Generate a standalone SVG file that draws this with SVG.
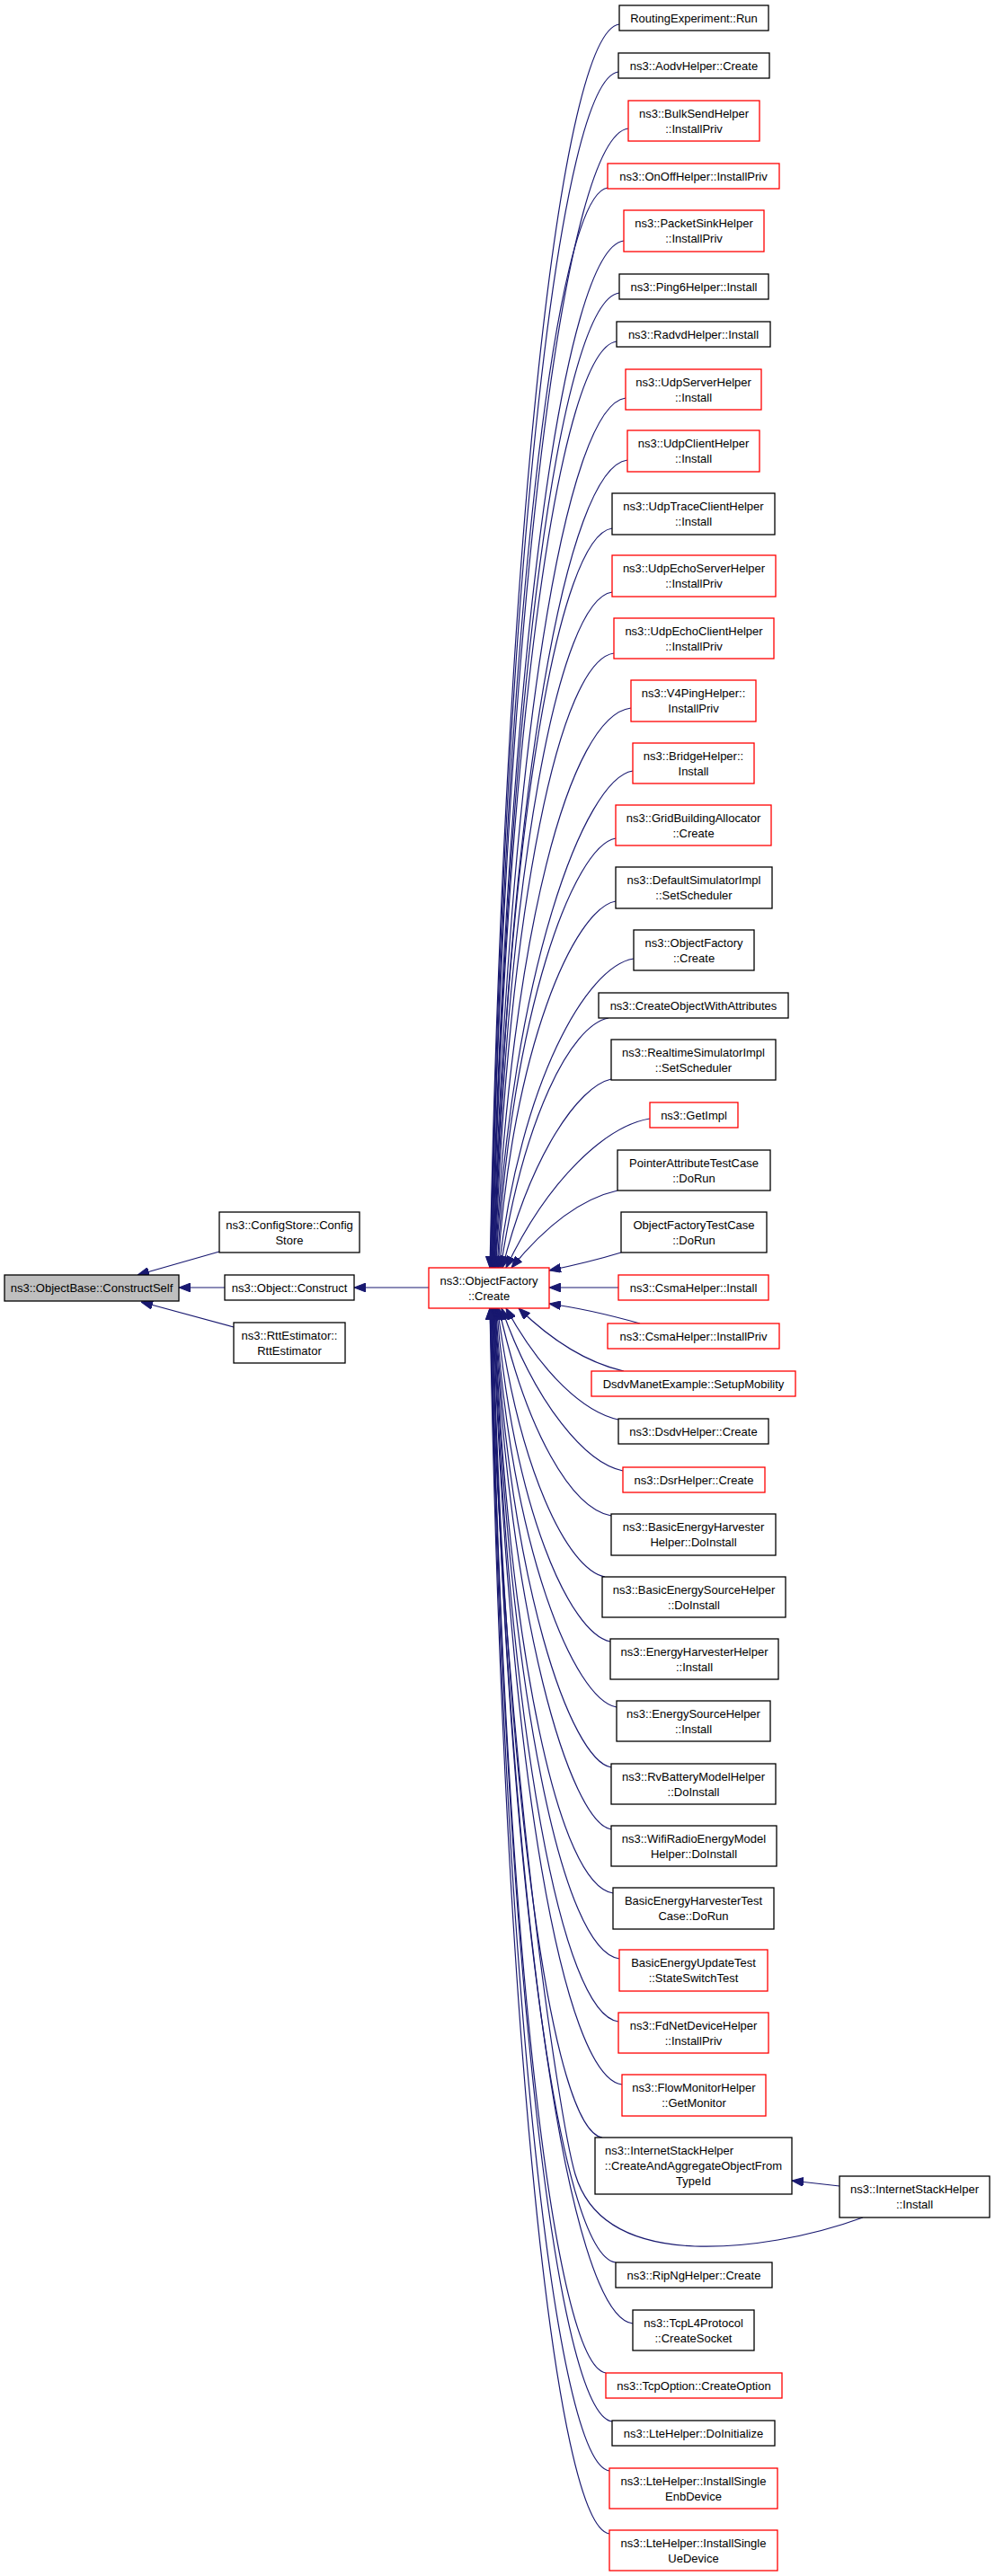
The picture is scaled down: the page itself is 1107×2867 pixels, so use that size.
<svg xmlns="http://www.w3.org/2000/svg" width="1107" height="2867" viewBox="0 0 1107 2867">
<style>
rect{fill:#ffffff;stroke:#000000;stroke-width:1.3}
.r rect{stroke:#ff0000}
.g rect{fill:#bfbfbf}
text{font-family:"Liberation Sans",Arial,sans-serif;font-size:13px;text-anchor:middle;fill:#000000}
text.l{text-anchor:start}
#edges path{fill:none;stroke:#191970;stroke-width:1.2;marker-end:url(#a)}
</style>
<defs>
<marker id="a" viewBox="0 0 13 10" refX="13" refY="5" markerWidth="13" markerHeight="10" markerUnits="userSpaceOnUse" orient="auto"><path d="M0,0 L13,5 L0,10 z" fill="#191970" stroke="#191970" stroke-width="1"/></marker>
</defs>
<rect x="0" y="0" width="1107" height="2867" style="fill:#ffffff;stroke:none"/>
<g id="edges">
<path d="M250,1433 L199,1433"/>
<path d="M477,1433 L394,1433"/>
<path d="M244,1393 L153,1419"/>
<path d="M260,1477 L157,1449"/>
<path d="M689,27 C624.2,35 562.3,580.6 545,1411"/>
<path d="M688,80 C623.9,88 562.6,612.4 545.5,1411"/>
<path d="M699,143 C630.1,151 564.4,650.2 546,1411"/>
<path d="M676,209 C617.7,217 562,689.8 546.5,1411"/>
<path d="M694,268 C627.8,276 564.6,725.2 547,1411"/>
<path d="M689,326 C625.3,334 564.5,760 547.5,1411"/>
<path d="M686,380 C623.9,388 564.6,792.4 548,1411"/>
<path d="M696,443 C629.6,451 566.2,830.2 548.5,1411"/>
<path d="M698,512 C631,520 566.9,871.6 549,1411"/>
<path d="M681,588 C621.8,596 565.3,917.2 549.5,1411"/>
<path d="M681,659 C622,667 565.7,959.8 550,1411"/>
<path d="M683,727 C623.4,735 566.4,1000.6 550.5,1411"/>
<path d="M702,788 C634,796 569.1,1037.2 551,1411"/>
<path d="M704,858 C650.6,866 569.8,1079.2 551.5,1411"/>
<path d="M685,933 C638.8,941 568.8,1124.2 553,1411"/>
<path d="M685,1003 C639.2,1011 569.7,1166.2 554,1411"/>
<path d="M705,1067 C652.5,1075 579.3,1204.6 555,1411"/>
<path d="M677,1133 C635,1141 582.4,1244.2 557,1411"/>
<path d="M680,1201 C643.7,1209 590.8,1285 559,1411"/>
<path d="M723,1245 C675,1253 610.3,1311.4 563,1411"/>
<path d="M687,1325 C651.6,1333 611,1359.4 569,1411"/>
<path d="M691,1394 C665,1402 635,1409 611,1414"/>
<path d="M688,1433 L611,1433"/>
<path d="M712,1473 C680,1464 640,1455 611,1451"/>
<path d="M694,1526 C658.9,1518 620,1498 577,1456"/>
<path d="M688,1580 C650.5,1572 603.9,1530.4 563,1456"/>
<path d="M693,1637 C652.5,1629 596.4,1564.6 558,1456"/>
<path d="M680,1687 C636.2,1679 585.8,1594.6 555,1456"/>
<path d="M673,1755 C631.2,1747 576.9,1635.4 553.5,1456"/>
<path d="M679,1827 C634.7,1819 570.5,1678.6 552.5,1456"/>
<path d="M686,1900 C638.9,1892 567.6,1722.4 551.5,1456"/>
<path d="M680,1967 C634.8,1959 566.5,1762.6 551,1456"/>
<path d="M680,2036 C634.7,2028 566,1804 550.5,1456"/>
<path d="M682,2107 C622.6,2099 565.8,1846.6 550,1456"/>
<path d="M689,2180 C626.2,2172 566.2,1890.4 549.5,1456"/>
<path d="M688,2250 C625.4,2242 565.7,1932.4 549,1456"/>
<path d="M692,2320 C627.4,2312 565.7,1974.4 548.5,1456"/>
<path d="M670,2379 C615.1,2371 562.6,2009.8 548,1456"/>
<path d="M685,2518 C623.1,2510 564,2093.2 547.5,1456"/>
<path d="M704,2586 C633.3,2578 565.8,2134 547,1456"/>
<path d="M674,2641 C616.6,2633 561.8,2167 546.5,1456"/>
<path d="M681,2695 C620.2,2687 562.2,2199.4 546,1456"/>
<path d="M678,2750 C618.4,2742 561.4,2232.4 545.5,1456"/>
<path d="M678,2820 C618.1,2812 561,2274.4 545,1456"/>
<path d="M960,2468 C900,2490 830,2502 773,2500 C700,2497 655,2470 640,2420 C622,2360 560,1950 545,1456"/>
<path d="M934,2433 L881,2427"/>
</g>
<g id="n_objectbase" class="g"><rect x="5" y="1419" width="194" height="29"/><text x="102" y="1438">ns3::ObjectBase::ConstructSelf</text></g>
<g id="n_configstore"><rect x="244" y="1349" width="156" height="45"/><text x="322" y="1367.5">ns3::ConfigStore::Config</text><text x="322" y="1384.5">Store</text></g>
<g id="n_objconstruct"><rect x="250" y="1419" width="144" height="28"/><text x="322" y="1437.5">ns3::Object::Construct</text></g>
<g id="n_rttestimator"><rect x="260" y="1472" width="124" height="45"/><text x="322" y="1490.5">ns3::RttEstimator::</text><text x="322" y="1507.5">RttEstimator</text></g>
<g id="n_ofcreate" class="r"><rect x="477" y="1411" width="134" height="45"/><text x="544" y="1429.5">ns3::ObjectFactory</text><text x="544" y="1446.5">::Create</text></g>
<g id="n1"><rect x="689" y="6" width="166" height="28"/><text x="772" y="24.5">RoutingExperiment::Run</text></g>
<g id="n2"><rect x="688" y="59" width="168" height="28"/><text x="772" y="77.5">ns3::AodvHelper::Create</text></g>
<g id="n3" class="r"><rect x="699" y="112" width="146" height="45"/><text x="772" y="130.5">ns3::BulkSendHelper</text><text x="772" y="147.5">::InstallPriv</text></g>
<g id="n4" class="r"><rect x="676" y="182" width="191" height="28"/><text x="771.5" y="200.5">ns3::OnOffHelper::InstallPriv</text></g>
<g id="n5" class="r"><rect x="694" y="234" width="156" height="46"/><text x="772" y="253">ns3::PacketSinkHelper</text><text x="772" y="270">::InstallPriv</text></g>
<g id="n6"><rect x="689" y="305" width="166" height="28"/><text x="772" y="323.5">ns3::Ping6Helper::Install</text></g>
<g id="n7"><rect x="686" y="358" width="171" height="28"/><text x="771.5" y="376.5">ns3::RadvdHelper::Install</text></g>
<g id="n8" class="r"><rect x="696" y="411" width="151" height="45"/><text x="771.5" y="429.5">ns3::UdpServerHelper</text><text x="771.5" y="446.5">::Install</text></g>
<g id="n9" class="r"><rect x="698" y="479" width="147" height="46"/><text x="771.5" y="498">ns3::UdpClientHelper</text><text x="771.5" y="515">::Install</text></g>
<g id="n10"><rect x="681" y="549" width="181" height="46"/><text x="771.5" y="568">ns3::UdpTraceClientHelper</text><text x="771.5" y="585">::Install</text></g>
<g id="n11" class="r"><rect x="681" y="618" width="182" height="46"/><text x="772" y="637">ns3::UdpEchoServerHelper</text><text x="772" y="654">::InstallPriv</text></g>
<g id="n12" class="r"><rect x="683" y="688" width="178" height="45"/><text x="772" y="706.5">ns3::UdpEchoClientHelper</text><text x="772" y="723.5">::InstallPriv</text></g>
<g id="n13" class="r"><rect x="702" y="757" width="139" height="46"/><text x="771.5" y="776">ns3::V4PingHelper::</text><text x="771.5" y="793">InstallPriv</text></g>
<g id="n14" class="r"><rect x="704" y="827" width="135" height="45"/><text x="771.5" y="845.5">ns3::BridgeHelper::</text><text x="771.5" y="862.5">Install</text></g>
<g id="n15" class="r"><rect x="685" y="896" width="173" height="45"/><text x="771.5" y="914.5">ns3::GridBuildingAllocator</text><text x="771.5" y="931.5">::Create</text></g>
<g id="n16"><rect x="685" y="965" width="174" height="46"/><text x="772" y="984">ns3::DefaultSimulatorImpl</text><text x="772" y="1001">::SetScheduler</text></g>
<g id="n17"><rect x="705" y="1035" width="134" height="45"/><text x="772" y="1053.5">ns3::ObjectFactory</text><text x="772" y="1070.5">::Create</text></g>
<g id="n18"><rect x="666" y="1105" width="211" height="28"/><text x="771.5" y="1123.5">ns3::CreateObjectWithAttributes</text></g>
<g id="n19"><rect x="680" y="1157" width="183" height="45"/><text x="771.5" y="1175.5">ns3::RealtimeSimulatorImpl</text><text x="771.5" y="1192.5">::SetScheduler</text></g>
<g id="n20" class="r"><rect x="723" y="1227" width="98" height="28"/><text x="772" y="1245.5">ns3::GetImpl</text></g>
<g id="n21"><rect x="687" y="1280" width="170" height="45"/><text x="772" y="1298.5">PointerAttributeTestCase</text><text x="772" y="1315.5">::DoRun</text></g>
<g id="n22"><rect x="691" y="1349" width="162" height="45"/><text x="772" y="1367.5">ObjectFactoryTestCase</text><text x="772" y="1384.5">::DoRun</text></g>
<g id="n23" class="r"><rect x="688" y="1419" width="167" height="28"/><text x="771.5" y="1437.5">ns3::CsmaHelper::Install</text></g>
<g id="n24" class="r"><rect x="676" y="1473" width="191" height="28"/><text x="771.5" y="1491.5">ns3::CsmaHelper::InstallPriv</text></g>
<g id="n25" class="r"><rect x="658" y="1526" width="227" height="28"/><text x="771.5" y="1544.5">DsdvManetExample::SetupMobility</text></g>
<g id="n26"><rect x="688" y="1579" width="167" height="28"/><text x="771.5" y="1597.5">ns3::DsdvHelper::Create</text></g>
<g id="n27" class="r"><rect x="693" y="1633" width="158" height="28"/><text x="772" y="1651.5">ns3::DsrHelper::Create</text></g>
<g id="n28"><rect x="680" y="1685" width="183" height="46"/><text x="771.5" y="1704">ns3::BasicEnergyHarvester</text><text x="771.5" y="1721">Helper::DoInstall</text></g>
<g id="n29"><rect x="670" y="1755" width="204" height="45"/><text x="772" y="1773.5">ns3::BasicEnergySourceHelper</text><text x="772" y="1790.5">::DoInstall</text></g>
<g id="n30"><rect x="679" y="1824" width="187" height="45"/><text x="772.5" y="1842.5">ns3::EnergyHarvesterHelper</text><text x="772.5" y="1859.5">::Install</text></g>
<g id="n31"><rect x="686" y="1893" width="171" height="45"/><text x="771.5" y="1911.5">ns3::EnergySourceHelper</text><text x="771.5" y="1928.5">::Install</text></g>
<g id="n32"><rect x="680" y="1963" width="183" height="45"/><text x="771.5" y="1981.5">ns3::RvBatteryModelHelper</text><text x="771.5" y="1998.5">::DoInstall</text></g>
<g id="n33"><rect x="680" y="2032" width="184" height="45"/><text x="772" y="2050.5">ns3::WifiRadioEnergyModel</text><text x="772" y="2067.5">Helper::DoInstall</text></g>
<g id="n34"><rect x="682" y="2101" width="179" height="46"/><text x="771.5" y="2120">BasicEnergyHarvesterTest</text><text x="771.5" y="2137">Case::DoRun</text></g>
<g id="n35" class="r"><rect x="689" y="2170" width="165" height="46"/><text x="771.5" y="2189">BasicEnergyUpdateTest</text><text x="771.5" y="2206">::StateSwitchTest</text></g>
<g id="n36" class="r"><rect x="688" y="2240" width="167" height="45"/><text x="771.5" y="2258.5">ns3::FdNetDeviceHelper</text><text x="771.5" y="2275.5">::InstallPriv</text></g>
<g id="n37" class="r"><rect x="692" y="2309" width="160" height="46"/><text x="772" y="2328">ns3::FlowMonitorHelper</text><text x="772" y="2345">::GetMonitor</text></g>
<g id="n38"><rect x="662" y="2379" width="219" height="63"/><text class="l" x="673" y="2398">ns3::InternetStackHelper</text><text x="771.5" y="2415">::CreateAndAggregateObjectFrom</text><text x="771.5" y="2432">TypeId</text></g>
<g id="n39"><rect x="685" y="2518" width="174" height="28"/><text x="772" y="2536.5">ns3::RipNgHelper::Create</text></g>
<g id="n40"><rect x="704" y="2571" width="135" height="45"/><text x="771.5" y="2589.5">ns3::TcpL4Protocol</text><text x="771.5" y="2606.5">::CreateSocket</text></g>
<g id="n41" class="r"><rect x="674" y="2641" width="196" height="28"/><text x="772" y="2659.5">ns3::TcpOption::CreateOption</text></g>
<g id="n42"><rect x="681" y="2694" width="181" height="28"/><text x="771.5" y="2712.5">ns3::LteHelper::DoInitialize</text></g>
<g id="n43" class="r"><rect x="678" y="2747" width="187" height="45"/><text x="771.5" y="2765.5">ns3::LteHelper::InstallSingle</text><text x="771.5" y="2782.5">EnbDevice</text></g>
<g id="n44" class="r"><rect x="678" y="2816" width="187" height="45"/><text x="771.5" y="2834.5">ns3::LteHelper::InstallSingle</text><text x="771.5" y="2851.5">UeDevice</text></g>
<g id="n45"><rect x="934" y="2422" width="167" height="46"/><text x="1017.5" y="2441">ns3::InternetStackHelper</text><text x="1017.5" y="2458">::Install</text></g>
</svg>
